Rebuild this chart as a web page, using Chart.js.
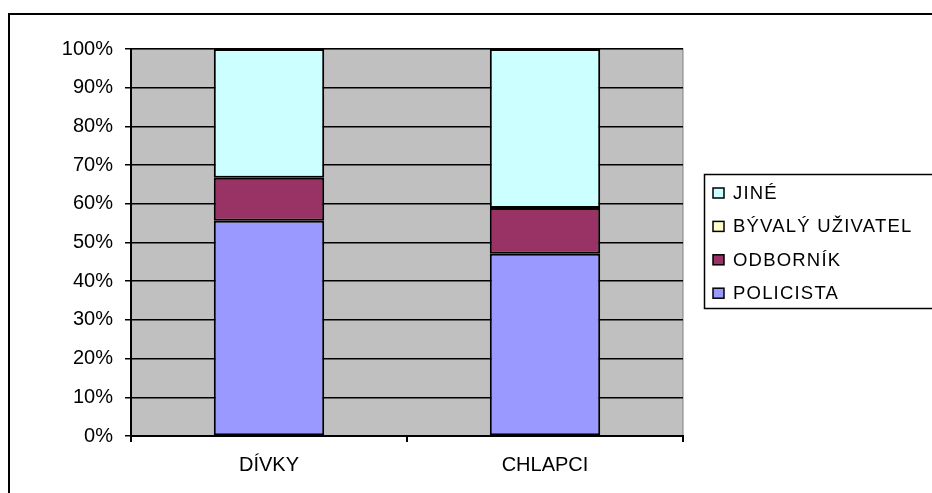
<!DOCTYPE html>
<html>
<head>
<meta charset="utf-8">
<script src="https://cdn.jsdelivr.net/npm/chart.js@4/dist/chart.umd.min.js"></script>
<style>
  html, body { margin: 0; padding: 0; background: #fff; overflow: hidden; }
  #wrap { width: 932px; height: 493px; }
</style>
</head>
<body>
<div id="wrap"><canvas id="chart" width="932" height="493"></canvas></div>
<script>
// ================= DATA =================
const categories = ["DÍVKY", "CHLAPCI"];
const policista = [55.6, 47.1];
const odbornik = [11.1, 11.8];
const byvalyUzivatel = [0, 0];
const jine = [33.3, 41.1];
const yTicks = [0, 10, 20, 30, 40, 50, 60, 70, 80, 90, 100];

const FONT = "'Liberation Sans', Arial, sans-serif";

// plot background + outer frame
const framePlugin = {
    id: "frame",
    beforeDraw(chart) {
        const c = chart.ctx;
        const a = chart.chartArea;
        c.save();
        c.fillStyle = "#fff";
        c.fillRect(0, 0, chart.width, chart.height);
        c.strokeStyle = "#000";
        c.lineWidth = 2;
        c.strokeRect(9, 14, 940, 500);
        c.fillStyle = "#c0c0c0";
        c.fillRect(a.left, a.top, a.right - a.left, a.bottom - a.top);
        c.strokeStyle = "#808080";
        c.lineWidth = 1;
        c.strokeRect(a.left, a.top, a.right - a.left, a.bottom - a.top);
        c.restore();
    }
};

// legend drawn by hand, reversed like the original
const legendPlugin = {
    id: "sideLegend",
    afterDraw(chart) {
        const c = chart.ctx;
        c.save();
        c.strokeStyle = "#000";
        c.lineWidth = 1.5;
        c.fillStyle = "#fff";
        c.fillRect(704, 174, 240, 134);
        c.strokeRect(704.5, 174.5, 240, 134);
        c.font = "18.5px " + FONT;
        c.textBaseline = "middle";
        c.letterSpacing = "1.2px";
        const items = chart.data.datasets.slice().reverse();
        items.forEach((ds, i) => {
            const y = 193 + i * 33.4;
            c.fillStyle = ds.backgroundColor;
            c.fillRect(713, y - 5, 11, 10);
            c.lineWidth = 1.5;
            c.strokeRect(713, y - 5, 11, 10);
            c.fillStyle = "#000";
            c.fillText(ds.label, 733, y + 1);
        });
        c.restore();
    }
};

const ds = (label, data, color) => ({
    label: label,
    data: data,
    backgroundColor: color,
    borderColor: "#000",
    borderWidth: 2,
    borderSkipped: false,
    categoryPercentage: 1,
    barPercentage: 0.4
});

new Chart(document.getElementById("chart"), {
    type: "bar",
    data: {
        labels: categories,
        datasets: [
            ds("POLICISTA", policista, "#9999ff"),
            ds("ODBORNÍK", odbornik, "#993366"),
            ds("BÝVALÝ UŽIVATEL", byvalyUzivatel, "#ffffcc"),
            ds("JINÉ", jine, "#ccffff")
        ]
    },
    options: {
        responsive: false,
        animation: false,
        layout: { padding: { left: 0, top: 49, right: 249, bottom: 0 } },
        plugins: {
            legend: { display: false },
            tooltip: { enabled: false }
        },
        scales: {
            x: {
                stacked: true,
                afterFit: s => { s.height = 57; },
                grid: {
                    offset: true,
                    drawOnChartArea: false,
                    color: "#000",
                    lineWidth: 2,
                    tickLength: 6
                },
                border: { color: "#000", width: 2 },
                ticks: {
                    color: "#000",
                    padding: 11,
                    font: { family: FONT, size: 20 }
                }
            },
            y: {
                stacked: true,
                min: 0,
                max: 100,
                afterFit: s => { s.width = 131; },
                afterBuildTicks: s => { s.ticks = yTicks.map(v => ({ value: v })); },
                grid: {
                    color: "#000",
                    lineWidth: 1.5,
                    tickLength: 6
                },
                border: { color: "#000", width: 2 },
                ticks: {
                    color: "#000",
                    padding: 12,
                    font: { family: FONT, size: 20 },
                    callback: v => v + "%"
                }
            }
        }
    },
    plugins: [framePlugin, legendPlugin]
});
</script>
</body>
</html>
